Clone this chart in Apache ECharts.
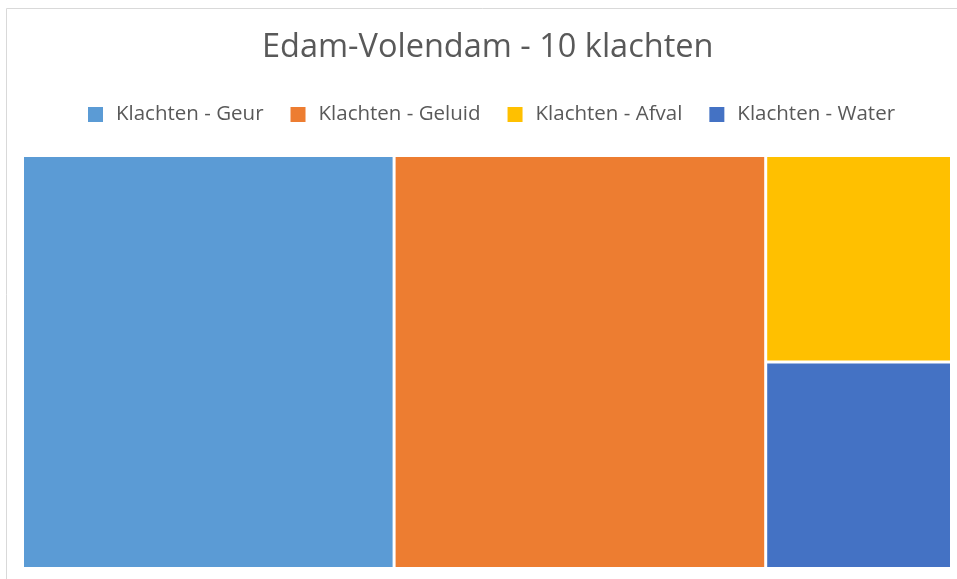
<!DOCTYPE html>
<html>
<head>
    <meta charset="utf-8">
    <title>Edam-Volendam</title>
    <script src="https://cdn.jsdelivr.net/npm/echarts@6/dist/echarts.min.js"></script>
    <style>
        html, body { margin: 0; padding: 0; background: #fff; }
        #chart { width: 957px; height: 579px; }
    </style>
</head>
<body>
    <div id="chart"></div>
<script type="text/javascript">
    // data
    var names = ['Klachten - Geur', 'Klachten - Geluid', 'Klachten - Afval', 'Klachten - Water'];
    var values = [4, 4, 1, 1];
    var colors = ['#5B9BD5', '#ED7D31', '#FFC000', '#4472C4'];

    var myChart = echarts.init(document.getElementById('chart'));

    var treeData = names.map(function (n, i) {
        return { name: n, value: values[i], itemStyle: { color: colors[i] } };
    });
    // hidden pie only feeds the legend
    var legendData = names.map(function (n, i) {
        return { name: n, value: values[i], itemStyle: { color: colors[i] } };
    });

    myChart.setOption({
        animation: false,
        textStyle: { fontFamily: 'Open Sans' },
        title: {
            text: 'Edam-Volendam - 10 klachten',
            left: 257,
            top: 26,
            textStyle: { color: '#595959', fontSize: 32.5, fontWeight: 'normal', fontFamily: 'Open Sans' }
        },
        legend: {
            top: 99,
            left: 83,
            icon: 'rect',
            itemWidth: 15,
            itemHeight: 15,
            itemGap: 27,
            selectedMode: false,
            textStyle: { color: '#595959', fontSize: 20.5, padding: [0, 0, 0, 8] },
            data: names
        },
        graphic: [{
            type: 'rect',
            shape: { x: 6.5, y: 8.5, width: 960, height: 600 },
            style: { fill: 'none', stroke: '#d9d9d9', lineWidth: 1 },
            silent: true
        }],
        series: [{
            type: 'pie',
            radius: [0, 0],
            silent: true,
            label: { show: false },
            labelLine: { show: false },
            data: legendData
        }, {
            type: 'treemap',
            left: 24,
            top: 157,
            width: 926,
            height: 410,
            sort: false,
            roam: false,
            nodeClick: false,
            breadcrumb: { show: false },
            label: { show: false },
            upperLabel: { show: false },
            levels: [{
                itemStyle: { borderWidth: 0, gapWidth: 3 }
            }, {
                itemStyle: { borderWidth: 0 }
            }],
            data: treeData
        }]
    });
</script>
</body>
</html>
